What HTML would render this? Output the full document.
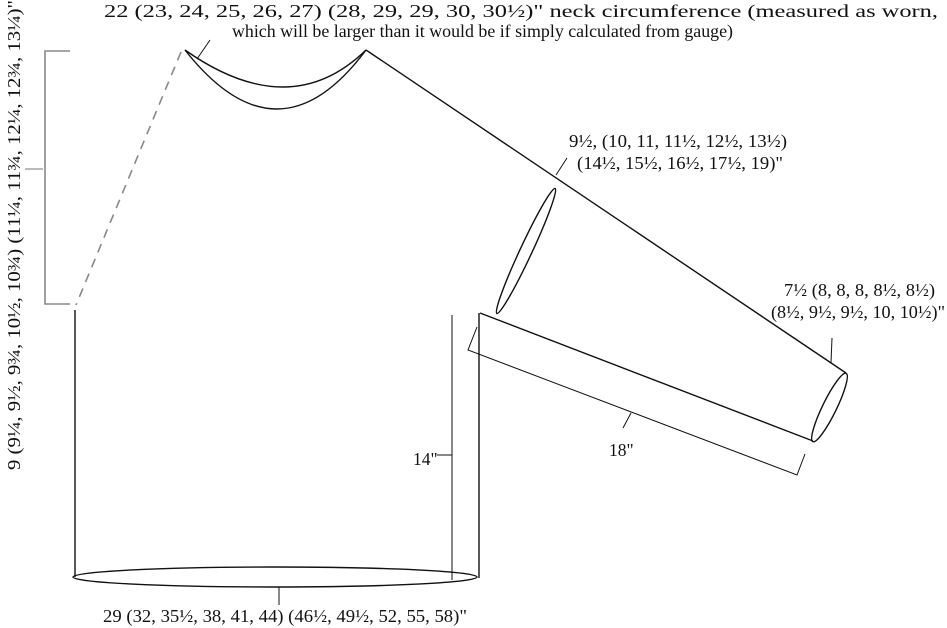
<!DOCTYPE html>
<html><head><meta charset="utf-8"><style>
html,body{margin:0;padding:0;background:#fff;}
svg{display:block;}
text{font-family:"Liberation Serif",serif;font-size:17.5px;fill:#111;}
</style></head><body>
<svg width="947" height="628" viewBox="0 0 947 628" xmlns="http://www.w3.org/2000/svg">
<g fill="none" stroke="#111" stroke-width="1.4">
  <path d="M185,50 Q278,168 366,50"/>
  <path d="M185,50 Q290,124 366,50"/>
  <line x1="197" y1="59" x2="210" y2="40" stroke-width="1"/>
  <line x1="366" y1="50" x2="846" y2="373"/>
  <line x1="480" y1="313" x2="813" y2="441"/>
  <ellipse cx="829.5" cy="407.5" rx="38" ry="7" transform="rotate(-64 829.5 407.5)"/>
  <ellipse cx="526" cy="251" rx="69" ry="6" transform="rotate(-65 526 251)"/>
  <line x1="75" y1="310" x2="75" y2="577"/>
  <line x1="479" y1="313" x2="479" y2="578"/>
  <ellipse cx="275" cy="577" rx="202" ry="10"/>
  <line x1="279" y1="587" x2="279" y2="605" stroke-width="1"/>
  <line x1="452" y1="315" x2="452" y2="580" stroke-width="1"/>
  <line x1="437" y1="455" x2="452" y2="455" stroke-width="1"/>
  <polyline points="477,327 468,350 797,475 805,454" stroke-width="1"/>
  <line x1="623" y1="428" x2="631" y2="413" stroke-width="1"/>
  <line x1="556" y1="175" x2="567" y2="158" stroke-width="1"/>
  <line x1="832" y1="338" x2="831" y2="363" stroke-width="1"/>
</g>
<g fill="none" stroke="#888" stroke-width="1.6">
  <polyline points="70,51 45,51 45,304 70,304"/>
  <line x1="181" y1="52" x2="76" y2="305" stroke-dasharray="9,7"/>
</g>
<line x1="25" y1="169" x2="43" y2="169" stroke="#777" stroke-width="1"/>
<text x="104" y="17" textLength="834" lengthAdjust="spacingAndGlyphs">22 (23, 24, 25, 26, 27) (28, 29, 29, 30, 30½)" neck circumference (measured as worn,</text>
<text x="232" y="37" textLength="501" lengthAdjust="spacingAndGlyphs">which will be larger than it would be if simply calculated from gauge)</text>
<text x="569" y="147" textLength="218" lengthAdjust="spacingAndGlyphs">9½, (10, 11, 11½, 12½, 13½)</text>
<text x="577" y="169" textLength="206" lengthAdjust="spacingAndGlyphs">(14½, 15½, 16½, 17½, 19)"</text>
<text x="784" y="296" textLength="151" lengthAdjust="spacingAndGlyphs">7½ (8, 8, 8, 8½, 8½)</text>
<text x="771" y="318" textLength="174" lengthAdjust="spacingAndGlyphs">(8½, 9½, 9½, 10, 10½)"</text>
<text x="609" y="456">18"</text>
<text x="413" y="465">14"</text>
<text x="103" y="622" textLength="364" lengthAdjust="spacingAndGlyphs">29 (32, 35½, 38, 41, 44) (46½, 49½, 52, 55, 58)"</text>
<text transform="translate(20,470) rotate(-90)" x="0" y="0" textLength="470" lengthAdjust="spacingAndGlyphs">9 (9¼, 9½, 9¾, 10½, 10¾) (11¼, 11¾, 12¼, 12¾, 13¼)"</text>
</svg>
</body></html>
